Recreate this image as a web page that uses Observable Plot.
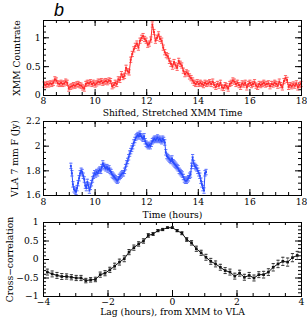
<!DOCTYPE html>
<html>
<head>
<meta charset="utf-8">
<script src="https://cdn.jsdelivr.net/npm/d3@7"></script>
<script src="https://cdn.jsdelivr.net/npm/@observablehq/plot@0.6"></script>
<style>
  html, body { margin: 0; padding: 0; background: #fff; }
  #wrap { position: relative; width: 307px; height: 324px; overflow: hidden; }
  .panel { position: absolute; left: 0; }
  #lab { position: absolute; left: 54px; top: 0px; line-height: 18px; font: italic 18px "Liberation Sans", Arial, sans-serif; z-index: 2; }
</style>
</head>
<body>
<div id="wrap"><div id="lab">b</div></div>
<script>
// ---- XMM count rate (shifted, stretched time), start 8.02 h, step 0.06 h
const xmmStart = 8.02, xmmStep = 0.06;
const xmmRate = [
  0.19,0.18,0.2,0.19,0.21,0.2,0.22,0.28,0.26,0.21,
  0.2,0.22,0.2,0.21,0.24,0.22,0.12,0.15,0.16,0.18,
  0.17,0.19,0.2,0.18,0.17,0.14,0.12,0.2,0.22,0.21,
  0.23,0.2,0.22,0.19,0.21,0.24,0.23,0.25,0.22,0.24,
  0.25,0.23,0.26,0.25,0.16,0.18,0.22,0.2,0.28,0.27,
  0.37,0.32,0.34,0.48,0.42,0.4,0.62,0.72,0.8,0.86,
  0.9,0.83,0.95,1.0,1.03,0.98,0.95,0.88,0.9,0.97,
  1.23,1.1,0.95,1.0,1.06,0.98,0.95,0.83,0.75,0.7,
  0.68,0.6,0.55,0.5,0.58,0.52,0.48,0.6,0.55,0.52,
  0.43,0.37,0.4,0.38,0.33,0.3,0.26,0.22,0.2,0.23,
  0.2,0.22,0.2,0.18,0.22,0.2,0.21,0.23,0.2,0.24,
  0.18,0.15,0.2,0.17,0.22,0.14,0.13,0.18,0.16,0.12,
  0.2,0.22,0.26,0.24,0.2,0.22,0.18,0.15,0.21,0.19,
  0.22,0.14,0.2,0.22,0.18,0.2,0.23,0.17,0.15,0.2,
  0.18,0.2,0.22,0.19,0.2,0.21,0.16,0.2,0.19,0.22,
  0.2,0.17,0.24,0.18,0.14,0.25,0.3,0.27,0.15,0.18,
  0.16,0.19,0.17,0.21,0.14,0.18,0.2
];
const xmmErr = 0.045;

// ---- VLA 7 mm flux, start 9.06 h, step 0.04 h
const vlaStart = 9.06, vlaStep = 0.04;
const vlaFlux = [
  1.84,1.78,1.69,1.65,1.64,1.63,1.66,1.7,1.74,1.78,
  1.8,1.79,1.76,1.73,1.68,1.66,1.71,1.68,1.64,1.67,
  1.7,1.73,1.76,1.78,1.77,1.79,1.78,1.8,1.81,1.8,
  1.83,1.86,1.84,1.83,1.82,1.83,1.81,1.82,1.8,1.79,
  1.77,1.76,1.75,1.74,1.73,1.72,1.73,1.75,1.76,1.77,
  1.78,1.78,1.8,1.83,1.86,1.88,1.91,1.94,1.96,1.98,
  2.0,2.03,2.05,2.07,2.08,2.09,2.08,2.1,2.08,2.07,
  2.06,2.08,2.04,2.02,2.01,2.0,2.01,2.0,2.02,2.04,
  2.05,2.06,2.05,2.06,2.07,2.05,2.06,2.05,2.04,2.06,
  2.05,2.03,1.95,1.92,1.91,1.9,1.89,1.88,1.9,1.87,
  1.86,1.85,1.84,1.83,1.82,1.8,1.79,1.78,1.77,1.75,
  1.73,1.72,1.72,1.73,1.74,1.76,1.77,1.84,1.91,1.86,
  1.84,1.83,1.82,1.8,1.78,1.76,1.72,1.69,1.66,1.64,
  1.78,1.79
];
const vlaErr = 0.022;

// ---- Cross-correlation vs lag
const lagStart = -3.88, lagStep = 0.149;
const crossCorr = [
  -0.34,-0.39,-0.43,-0.46,-0.46,-0.48,-0.50,-0.50,-0.57,-0.55,
  -0.54,-0.41,-0.37,-0.28,-0.18,-0.07,0.02,0.2,0.32,0.42,
  0.5,0.65,0.69,0.78,0.81,0.86,0.86,0.78,0.71,0.54,
  0.45,0.29,0.18,0.06,-0.05,-0.12,-0.21,-0.30,-0.34,-0.45,
  -0.37,-0.48,-0.43,-0.5,-0.41,-0.41,-0.34,-0.21,-0.12,-0.05,
  -0.07,0.05,0.11
];
const crossErr = [
  0.08,0.08,0.08,0.08,0.07,0.07,0.07,0.07,0.06,0.06,
  0.06,0.07,0.07,0.07,0.08,0.08,0.08,0.07,0.07,0.06,
  0.06,0.05,0.04,0.03,0.03,0.02,0.02,0.03,0.04,0.05,
  0.06,0.07,0.07,0.08,0.08,0.08,0.08,0.08,0.08,0.08,
  0.08,0.08,0.08,0.08,0.08,0.09,0.09,0.1,0.1,0.11,
  0.11,0.11,0.11
];

// tick definitions
const timeMajor = [8,10,12,14,16,18];
const timeMinor = d3.range(8, 18.01, 0.5);
const rateMajor = [0, 0.5, 1];
const rateMinor = d3.range(0, 1.301, 0.1);
const fluxMajor = [1.6, 1.8, 2, 2.2];
const fluxMinor = d3.range(1.6, 2.201, 0.05);
const lagMajor = [-4,-2,0,2,4];
const lagMinor = d3.range(-4, 4.01, 0.5);
const ccMajor = [-1,-0.5,0,0.5,1];
const ccMinor = d3.range(-1, 1.001, 0.1);

const xmm = xmmRate.map((v, i) => ({x: xmmStart + i * xmmStep, y: v, e: xmmErr}));
const vla = vlaFlux.map((v, i) => ({x: vlaStart + i * vlaStep, y: v, e: vlaErr}));
const cc = crossCorr.map((v, i) => ({x: lagStart + i * lagStep, y: v, e: crossErr[i]}));

const capSymbol = {draw(ctx, size) { const w = Math.sqrt(size) / 2; ctx.moveTo(-w, 0); ctx.lineTo(w, 0); }};

const W = 307, ML = 43, MR = 6;
const FONT = "'DejaVu Serif', serif";
const TICKFS = 9.2, TITLEFS = 9.2;

function panel(o) {
  const H = o.height - o.mt - o.mb;
  const FW = W - ML - MR;
  const marks = [
    Plot.ruleX(o.xMinor, {x: d => d, insetTop: H - 3, stroke: "#000"}),
    Plot.ruleX(o.xMinor, {x: d => d, insetBottom: H - 3, stroke: "#000"}),
    Plot.ruleX(o.xMajor, {x: d => d, insetTop: H - 6, stroke: "#000"}),
    Plot.ruleX(o.xMajor, {x: d => d, insetBottom: H - 6, stroke: "#000"}),
    Plot.ruleY(o.yMinor, {y: d => d, insetRight: FW - 3, stroke: "#000"}),
    Plot.ruleY(o.yMinor, {y: d => d, insetLeft: FW - 3, stroke: "#000"}),
    Plot.ruleY(o.yMajor, {y: d => d, insetRight: FW - 6, stroke: "#000"}),
    Plot.ruleY(o.yMajor, {y: d => d, insetLeft: FW - 6, stroke: "#000"}),
    Plot.axisX({ticks: o.xMajor, tickSize: 0, tickPadding: o.xPad, label: null, fontSize: TICKFS}),
    Plot.axisY({ticks: o.yMajor, tickSize: 0, tickPadding: o.yPad, label: null, fontSize: TICKFS, tickFormat: d => d3.format("")(d).replace("-", "\u2212")}),
    Plot.ruleX(o.data, {x: "x", y1: d => d.y - d.e, y2: d => d.y + d.e, stroke: o.errColor, strokeWidth: 1}),
    Plot.dot(o.data, {x: "x", y: d => d.y + d.e, symbol: capSymbol, r: 1.8, stroke: o.capColor, strokeWidth: 1}),
    Plot.dot(o.data, {x: "x", y: d => d.y - d.e, symbol: capSymbol, r: 1.8, stroke: o.capColor, strokeWidth: 1}),
    Plot.line(o.data, {x: "x", y: "y", stroke: o.color, strokeWidth: 1}),
    Plot.dot(o.data, {x: "x", y: "y", symbol: "square", r: o.dotR, fill: o.color, stroke: "none"}),
    Plot.frame({stroke: "#000", strokeWidth: 1}),
    Plot.text([o.xTitle], {frameAnchor: "bottom", textAnchor: "middle", dy: o.xTitleDy, fontSize: TITLEFS, fill: "#000"}),
    Plot.text([o.yTitle], {frameAnchor: "left", textAnchor: "middle", rotate: -90, dx: o.yTitleDx, fontSize: TITLEFS, fill: "#000"})
  ];
  const svg = Plot.plot({
    width: W, height: o.height,
    marginLeft: ML, marginRight: MR, marginTop: o.mt, marginBottom: o.mb,
    style: {fontFamily: FONT, fontSize: TICKFS + "px", color: "#000", background: "transparent", overflow: "visible"},
    x: {domain: o.xDomain},
    y: {domain: o.yDomain},
    marks
  });
  svg.classList.add("panel");
  svg.style.top = o.top + "px";
  return svg;
}

const wrap = document.getElementById("wrap");
wrap.appendChild(panel({
  top: 0, height: 120, mt: 20, mb: 25,
  data: xmm, xDomain: [8, 18], yDomain: [0, 1.3],
  xMajor: timeMajor, xMinor: timeMinor, yMajor: rateMajor, yMinor: rateMinor,
  color: "#ff2a2a", errColor: "#ff9a9a", capColor: "#ff6060", dotR: 1.1,
  xTitle: "Shifted, Stretched XMM Time", xTitleDy: 20, xPad: 2, yPad: 3, yTitleDx: -26,
  yTitle: "XMM Countrate"
}));
wrap.appendChild(panel({
  top: 105, height: 120, mt: 16, mb: 30,
  data: vla, xDomain: [8, 18], yDomain: [1.6, 2.2],
  xMajor: timeMajor, xMinor: timeMinor, yMajor: fluxMajor, yMinor: fluxMinor,
  color: "#2a4cff", errColor: "#9aaaff", capColor: "#5a70ff", dotR: 1.1,
  xTitle: "Time (hours)", xTitleDy: 22, xPad: 3, yPad: 3, yTitleDx: -28,
  yTitle: "VLA 7 mm F (Jy)"
}));
wrap.appendChild(panel({
  top: 210, height: 114, mt: 12, mb: 28,
  data: cc, xDomain: [-4, 4], yDomain: [-1, 1],
  xMajor: lagMajor, xMinor: lagMinor, yMajor: ccMajor, yMinor: ccMinor,
  color: "#111", errColor: "#999", capColor: "#333", dotR: 1.5,
  xTitle: "Lag (hours), from XMM to VLA", xTitleDy: 18.5, xPad: 2, yPad: 5, yTitleDx: -33,
  yTitle: "Cross\u2212correlation"
}));
</script>
</body>
</html>
